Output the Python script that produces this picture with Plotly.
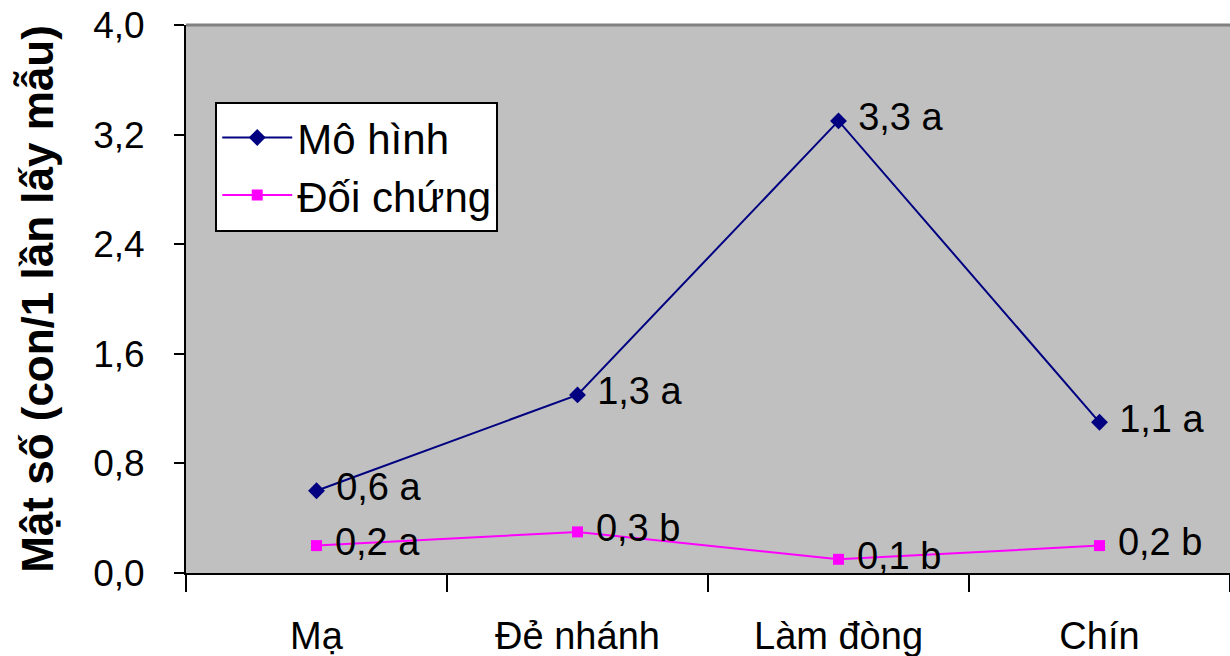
import plotly.graph_objects as go

# Growth stages of the rice crop
stages = ["Mạ", "Đẻ nhánh", "Làm đòng", "Chín"]

# Mean density per sampling (individuals / sampling)
mo_hinh = [0.6, 1.3, 3.3, 1.1]
doi_chung = [0.2, 0.3, 0.1, 0.2]

# Significance letters for each point
mo_hinh_sig = ["a", "a", "a", "a"]
doi_chung_sig = ["a", "b", "b", "b"]

y_ticks = [0.0, 0.8, 1.6, 2.4, 3.2, 4.0]


def vn(v):
    return f"{v:.1f}".replace(".", ",")


FONT = "Liberation Sans, Arial, sans-serif"

fig = go.Figure()
fig.add_trace(go.Scatter(
    x=stages, y=mo_hinh, name="Mô hình",
    mode="lines+markers+text",
    line=dict(color="#000080", width=2),
    marker=dict(symbol="diamond", size=13, color="#000080"),
    text=[f" {vn(v)} {s}" for v, s in zip(mo_hinh, mo_hinh_sig)],
    textposition="middle right",
    textfont=dict(family=FONT, size=38, color="black"),
))
fig.add_trace(go.Scatter(
    x=stages, y=doi_chung, name="Đối chứng",
    mode="lines+markers+text",
    line=dict(color="#FF00FF", width=2),
    marker=dict(symbol="square", size=11, color="#FF00FF"),
    text=[f" {vn(v)} {s}" for v, s in zip(doi_chung, doi_chung_sig)],
    textposition="middle right",
    textfont=dict(family=FONT, size=38, color="black"),
))

fig.update_layout(
    width=1230, height=656,
    margin=dict(l=186, r=0, t=25, b=83),
    paper_bgcolor="white",
    plot_bgcolor="#C0C0C0",
    font=dict(family=FONT, color="black"),
    showlegend=True,
    legend=dict(
        x=0.028, y=0.86, xanchor="left", yanchor="top",
        bgcolor="white", bordercolor="black", borderwidth=2,
        font=dict(family=FONT, size=42, color="black"),
        itemwidth=70,
    ),
)

fig.update_xaxes(
    type="category", range=[-0.5, 3.5],
    showline=True, linecolor="black", linewidth=2,
    ticks="outside", tickson="boundaries", ticklen=17,
    tickcolor="black", tickwidth=2,
    tickfont=dict(family=FONT, size=38, color="black"),
    ticklabelstandoff=28,
    showgrid=False, zeroline=False, mirror=False,
)
fig.update_yaxes(
    range=[0, 4.0], tickvals=y_ticks,
    ticktext=[vn(v) for v in y_ticks],
    showline=True, linecolor="black", linewidth=2,
    ticks="outside", ticklen=10, tickcolor="black", tickwidth=2,
    tickfont=dict(family=FONT, size=37, color="black"),
    ticklabelstandoff=22,
    showgrid=False, zeroline=False,
    title=dict(text="<b>Mật số (con/1 lần lấy mẫu)</b>",
               font=dict(family=FONT, size=44, color="black"),
               standoff=26),
)

# Plot-area frame along the top edge
fig.add_shape(type="line", xref="paper", yref="paper",
              x0=0, x1=1, y0=1, y1=1,
              line=dict(color="#808080", width=3))

fig.write_html("out.html")
